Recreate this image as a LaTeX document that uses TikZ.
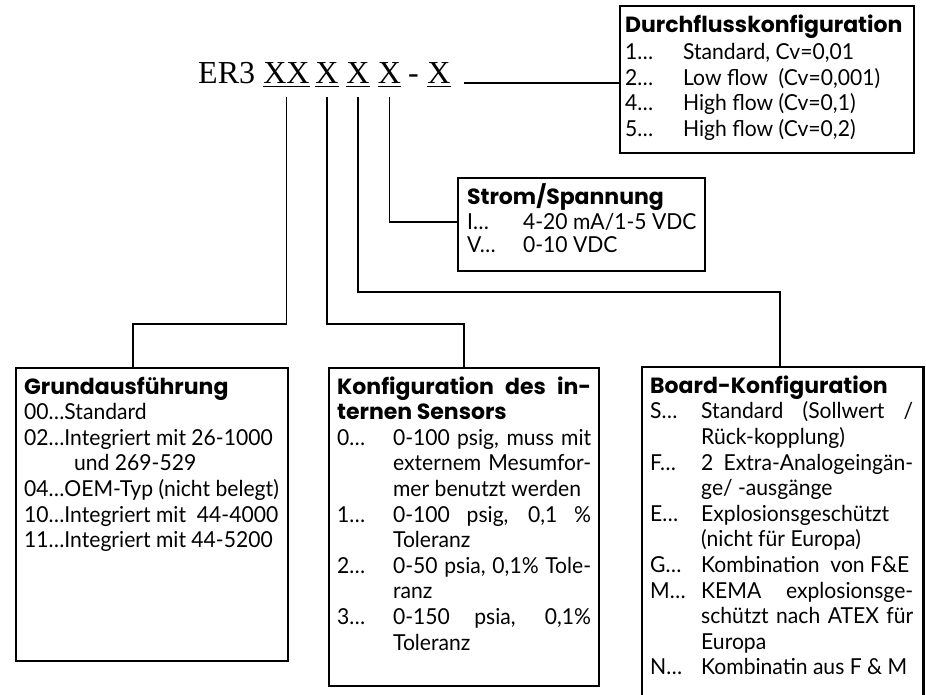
\documentclass[tikz,border=0pt]{standalone}
\usepackage{fontspec}
\setmainfont{Lato}[FakeStretch=0.96]
\newfontfamily\ttlfont{Poppins}
\newfontfamily\seriffont{Liberation Serif}
\newlength\padl \newlength\labw \newlength\colw
\newcommand\Ttl[1]{\hbox{\hskip\padl\ttlfont\bfseries #1}}
\newcommand\Itm[2]{\hbox{\hskip\padl\hbox to\labw{#1\hfil}#2}}
\newcommand\Cnt[1]{\hbox{\hskip\padl\hskip\labw #1}}
\newcommand\Jst[1]{\hbox to\colw{#1}}
\newcommand\Raw[1]{\hbox{\hskip\padl #1}}
\newcommand\BoxText[3]{\vbox to #2{\baselineskip=25.6pt\lineskip=0pt\lineskiplimit=-100pt
    \hbox to #1{}\vskip0.4pt #3\vfil}}
\newcommand\undl[1]{\setbox0\hbox{#1}\rlap{\rule[-4pt]{\wd0}{1.3pt}}\box0}
\tikzset{
  conn/.style={line width=1.5pt},
  bx/.style={draw, line width=2.2pt, inner sep=0pt, anchor=north west, font=\fontsize{22pt}{25.6pt}\selectfont},
  bxopen/.style={inner sep=0pt, anchor=north west, font=\fontsize{22pt}{25.6pt}\selectfont},
  code/.style={inner sep=0pt, anchor=base, font=\seriffont\fontsize{32pt}{36pt}\selectfont}
}
\begin{document}
\begin{tikzpicture}[x=1pt,y=-1pt]
\fill[white] (0,0) rectangle (926,694);
\useasboundingbox (0,0) rectangle (926,694);
% code line
\node[code, anchor=base west] (er) at (198,83) {ER3};
\node[code] (xx) at (286.5,83) {\undl{XX}};
\node[code] (xa) at (327,83) {\undl{X}};
\node[code] (xb) at (358,83) {\undl{X}};
\node[code] (xc) at (389.5,83) {\undl{X}};
\node[code] (dash) at (413.5,83) {-};
\node[code] (xd) at (439,83) {\undl{X}};
% boxes
\node[bx] (durch) at (619,5) {\setlength\padl{5pt}\setlength\labw{58pt}%
 \BoxText{294pt}{147pt}{%
  \Ttl{Durchflusskonfiguration}\vskip2pt
  \Itm{1…}{Standard, Cv=0,01}
  \Itm{2…}{Low flow\ \ (Cv=0,001)}
  \Itm{4…}{High flow (Cv=0,1)}
  \Itm{5…}{High flow (Cv=0,2)}}};
\node[bx] (strom) at (457,177) {\setlength\padl{9pt}\setlength\labw{56pt}%
 \BoxText{247pt}{93pt}{%
  \Ttl{Strom/Spannung}
  \Itm{I…}{4-20 mA/1-5 VDC}\vskip-2.5pt
  \Itm{V…}{0-10 VDC}}};
\node[bx] (b1) at (15,367) {\setlength\padl{8pt}%
 \BoxText{272pt}{293pt}{%
  \Ttl{Grundausführung}
  \Raw{00…Standard}
  \Raw{02…Integriert mit 26-1000}
  \Raw{\hskip50pt und 269-529}
  \Raw{04…OEM-Typ (nicht belegt)}
  \Raw{10…Integriert mit\ \ 44-4000}
  \Raw{11…Integriert mit 44-5200}}};
\node[bx] (b2) at (328,367) {\setlength\padl{8pt}\setlength\labw{56pt}\setlength\colw{198pt}%
 \BoxText{270pt}{318pt}{%
  \hbox{\hskip\padl\ttlfont\bfseries\hbox to 254pt{Konfiguration des in-}}
  \Ttl{ternen Sensors}
  \Itm{0…}{\Jst{0-100 psig, muss mit}}
  \Cnt{\Jst{externem Mesumfor-}}
  \Cnt{mer benutzt werden}
  \Itm{1…}{\Jst{0-100 psig, 0,1 \%}}
  \Cnt{Toleranz}
  \Itm{2…}{\Jst{0-50 psia, 0,1\% Tole-}}
  \Cnt{ranz}
  \Itm{3…}{\Jst{0-150 psia, 0,1\%}}
  \Cnt{Toleranz}}};
\node[bxopen] (b3) at (642,367) {\setlength\padl{8pt}\setlength\labw{51pt}\setlength\colw{212pt}%
 \BoxText{281pt}{330pt}{%
  \Ttl{Board-Konfiguration}
  \Itm{S…}{\Jst{Standard (Sollwert /}}
  \Cnt{Rück-kopplung)}
  \Itm{F…}{\Jst{2 Extra-Analogeingän-}}
  \Cnt{ge/ -ausgänge}
  \Itm{E…}{Explosionsgeschützt}
  \Cnt{(nicht für Europa)}
  \Itm{G…}{Kombination\ \ von F\&E}
  \Itm{M…}{\Jst{KEMA explosionsge-}}
  \Cnt{\Jst{schützt nach ATEX für}}
  \Cnt{Europa}
  \Itm{N…}{Kombinatin aus F \& M}}};
\draw[line width=2.2pt] (b3.south west) -- (b3.north west) -- (b3.north east) -- (b3.south east);
% connectors
\coordinate (c5) at ([xshift=13pt]xd.base east);
\draw[conn] (c5) -- (c5 -| durch.west);
\coordinate (j1) at (133,324);
\coordinate (j2) at (464,324);
\coordinate (j3) at (780,292);
\draw[conn] ([yshift=-10pt]xx.south) |- (j1) -- (j1 |- b1.north);
\draw[conn] ([yshift=-10pt]xa.south) |- (j2) -- (j2 |- b2.north);
\draw[conn] ([yshift=-10pt]xb.south) |- (j3) -- (j3 |- b3.north);
\draw[conn] ([yshift=-10pt]xc.south) |- ([yshift=2.5pt]strom.west);
\end{tikzpicture}
\end{document}
